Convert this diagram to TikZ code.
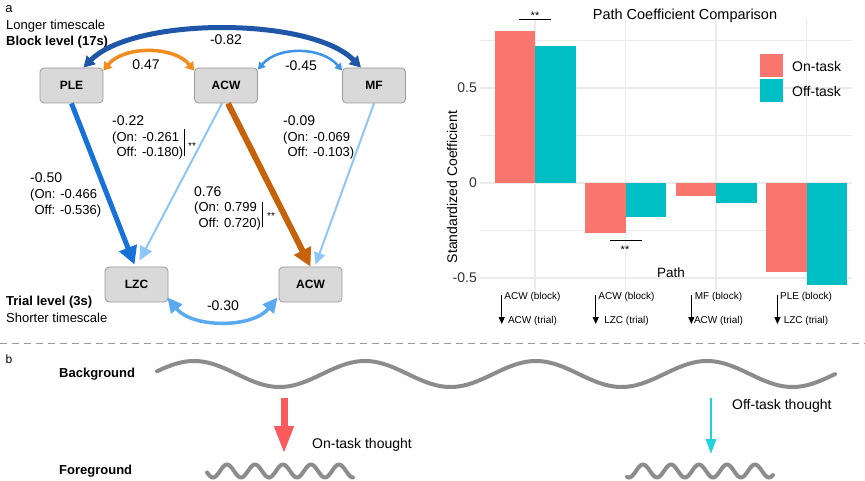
\documentclass[tikz,border=0pt]{standalone}
\usepackage{fontspec}
\setmainfont{Liberation Sans}
\usepackage{tikz}
\usetikzlibrary{
    arrows.meta,
    calc,
    positioning
}

\definecolor{boxfill}{HTML}{D9D9D9}
\definecolor{boxedge}{HTML}{9A9A9A}
\definecolor{pathdark}{HTML}{1F56A8}
\definecolor{pathblue}{HTML}{1672D9}
\definecolor{pathmid}{HTML}{3B93E6}
\definecolor{pathlight}{HTML}{8DC6F7}
\definecolor{pathsky}{HTML}{5AAAF2}
\definecolor{pathorange}{HTML}{F28C1C}
\definecolor{pathbrown}{HTML}{C5620A}
\definecolor{ontask}{HTML}{F8766D}
\definecolor{offtask}{HTML}{00BFC4}
\definecolor{gridgray}{HTML}{EBEBEB}
\definecolor{wavegray}{HTML}{8C8C8C}
\definecolor{onarrow}{HTML}{FA5A5C}
\definecolor{offarrow}{HTML}{1ED3DC}
\newcommand{\fsz}[1]{\fontsize{#1}{#1}\selectfont}

\begin{document}
\begin{tikzpicture}[x=1pt, y=-1pt,
    box/.style={draw=boxedge, fill=boxfill, line width=0.8pt, rounded corners=4pt,
        minimum width=63pt, minimum height=35pt, inner sep=0pt, font=\fsz{12}\bfseries},
    lbl/.style={inner sep=0pt, font=\fsz{14}},
    coef/.style={inner sep=0pt, anchor=north west, align=left, font=\fontsize{13}{15.5}\selectfont},
    side/.style={inner sep=0pt, anchor=west, font=\fsz{13}},
    ticklbl/.style={inner sep=0pt, anchor=east, font=\fsz{14}, text=black!80},
    catlbl/.style={inner sep=0pt, align=center, font=\fontsize{10}{24}\selectfont},
    catarrow/.style={-{Triangle[length=7pt,width=6pt]}, line width=1.3pt},
    stars/.style={inner sep=0pt, anchor=base, font=\fsz{11}},
    wave/.style={wavegray, line width=4pt, line cap=round}
]
\useasboundingbox (0,0) rectangle (865,481);

\node[side, anchor=center] (la) at (9,9) {a};
\node[side] (longer) at (6,26) {Longer timescale};
\node[side, font=\fsz{13}\bfseries] (blocklvl) at (6,42) {Block level (17s)};
\node[side, font=\fsz{13}\bfseries] (triallvl) at (6,302) {Trial level (3s)};
\node[side] (shorter) at (6,318) {Shorter timescale};

\node[box] (ple) at (71.5,85.5) {PLE};
\node[box] (acwb) at (226,85.5) {ACW};
\node[box] (mf) at (374,85.5) {MF};
\node[box] (lzc) at (136.5,284.5) {LZC};
\node[box] (acwt) at (310.5,284.5) {ACW};

\draw[{Triangle[length=11pt,width=12pt]}-{Triangle[length=11pt,width=12pt]}, line width=5pt, pathdark]
    ($(ple.north)+(12,0)$) .. controls +(50,-51) and +(-50,-51) .. ($(mf.north)+(-13,0)$);
\draw[{Triangle[length=8pt,width=10pt]}-{Triangle[length=8pt,width=10pt]}, line width=3.5pt, pathorange]
    ($(ple.north east)+(0,3)$) .. controls +(20,-25) and +(-20,-25) .. ($(acwb.north west)+(0,3)$);
\draw[{Triangle[length=7pt,width=8pt]}-{Triangle[length=7pt,width=8pt]}, line width=2.5pt, pathmid]
    ($(acwb.north east)+(0,2)$) .. controls +(20,-24) and +(-20,-24) .. ($(mf.north west)+(0,3)$);
\draw[{Triangle[length=15pt,width=14pt]}-{Triangle[length=15pt,width=14pt]}, line width=3.5pt, pathsky]
    ($(lzc.south east)+(-1,-5)$) .. controls +(25,31) and +(-25,31) .. ($(acwt.south west)+(-1,-5)$);

\draw[-{Triangle[length=14pt,width=13pt]}, line width=2pt, pathlight] ($(acwb.south)+(-4,0)$) -- ($(lzc.north)+(3,-6)$);
\draw[-{Triangle[length=12pt,width=11pt]}, line width=2pt, pathlight] (mf.south) -- ($(acwt.north)+(5,-2)$);
\draw[-{Triangle[length=18pt,width=18pt]}, line width=5pt, pathblue] (ple.south) -- ($(lzc.north)+(-2,-2)$);
\draw[-{Triangle[length=18pt,width=18pt]}, line width=6pt, pathbrown] ($(acwb.south)+(2,0)$) -- (acwt.north);

\node[lbl] (c82) at (226,40) {-0.82};
\node[lbl] (c47) at (146,65) {0.47};
\node[lbl] (c45) at (301,66) {-0.45};
\node[lbl] (c30) at (223,306) {-0.30};
\node[coef] (c22) at (112,116) {{\fsz{14}-0.22}\\(On: -0.261\\\hphantom{(}Off: -0.180)};
\node[coef] (c09) at (283,116) {{\fsz{14}-0.09}\\(On: -0.069\\\hphantom{(}Off: -0.103)};
\node[coef, font=\fontsize{13}{16}\selectfont] (c50) at (30,173) {{\fsz{14}-0.50}\\(On: -0.466\\\hphantom{(}Off: -0.536)};
\node[coef] (c76) at (194,186.5) {{\fsz{14}0.76}\\(On: 0.799\\\hphantom{(}Off: 0.720)};
\draw[line width=1pt] (184,129) -- (184,156);
\node[stars, font=\fsz{10}] (s22) at (192,150) {**};
\draw[line width=1pt] (262,202) -- (262,227);
\node[stars, font=\fsz{10}] (s76) at (271,220) {**};

\begin{scope}[shift={(0,183)}, y=190pt]
    \foreach \v in {0.75,0.25,-0.25}
        \draw[gridgray, line width=0.6pt] (480,\v) -- (852,\v);
    \foreach \v in {0.5,0,-0.5}
        \draw[gridgray, line width=1.1pt] (480,\v) -- (852,\v);
    \foreach \c in {535,625.5,716,806.5}
        \draw[gridgray, line width=1.1pt] (\c,0.858) -- (\c,-0.563);
    \foreach \c/\on/\off in {535/0.799/0.720, 625.5/-0.261/-0.180, 716/-0.069/-0.103, 806.5/-0.466/-0.536}{
        \fill[ontask] (\c-40.5,0) rectangle (\c,\on);
        \fill[offtask] (\c,0) rectangle (\c+40.5,\off);
    }
    \node[ticklbl] (t1) at (477,0.5) {0.5};
    \node[ticklbl] (t0) at (477,0) {0};
    \node[ticklbl] (t2) at (477,-0.5) {-0.5};
\end{scope}
\node[lbl, font=\fsz{14.5}] (title) at (685,16) {Path Coefficient Comparison};
\node[lbl, rotate=90] (ylab) at (452,187) {Standardized Coefficient};
\node[lbl, font=\fsz{13.5}] (xlab) at (671,273) {Path};
\draw[line width=1pt] (519,20) -- (551,20);
\node[stars] (s1) at (535,20) {**};
\draw[line width=1pt] (610,241) -- (642,241);
\node[stars] (s2) at (625,254) {**};
\fill[ontask] (760,54) rectangle (783,77);
\fill[offtask] (760,79) rectangle (783,102);
\node[side, font=\fsz{14}] (lon) at (792,66) {On-task};
\node[side, font=\fsz{14}] (loff) at (792,91) {Off-task};

\node[catlbl] (k1) at (532.5,309) {ACW (block)\\ACW (trial)};
\node[catlbl] (k2) at (626.5,309) {ACW (block)\\LZC (trial)};
\node[catlbl] (k3) at (718.5,309) {MF (block)\\ACW (trial)};
\node[catlbl] (k4) at (806,309) {PLE (block)\\LZC (trial)};
\foreach \k in {k1,k2,k3,k4}
    \draw[catarrow] ($(\k.west)+(-2.5,-14)$) -- ++(0,29);

\draw[black!40, line width=0.9pt, dash pattern=on 7pt off 5pt] (0,343) -- (865,343);

\node[side, anchor=center, font=\fsz{12}] (lb) at (9,359) {b};
\node[side, font=\fsz{13}\bfseries] (bg) at (59,374) {Background};
\node[side, font=\fsz{13}\bfseries] (fg) at (59,471) {Foreground};
\draw[wave] plot[domain=157:835, samples=240, smooth] (\x, {374-13*cos(2.10526*(\x-194))});
\draw[wave] plot[domain=207:353, samples=140, smooth] (\x, {471-6.5*cos(12.857*(\x-227))});
\draw[wave] plot[domain=627:773, samples=140, smooth] (\x, {471-6.5*cos(12.857*(\x-643))});

\coordinate (onfrom) at (284,398);
\coordinate (onto) at (284,454);
\coordinate (offfrom) at (711,398);
\coordinate (offto) at (711,454);
\draw[-{Triangle[length=28pt,width=18pt]}, line width=7pt, onarrow] (onfrom) -- (onto);
\draw[-{Triangle[length=15pt,width=10pt]}, line width=2.5pt, offarrow] (offfrom) -- (offto);
\node[side, font=\fsz{14}] (onlbl) at (312,445) {On-task thought};
\node[side, font=\fsz{14}] (offlbl) at (732,406) {Off-task thought};
\end{tikzpicture}
\end{document}
